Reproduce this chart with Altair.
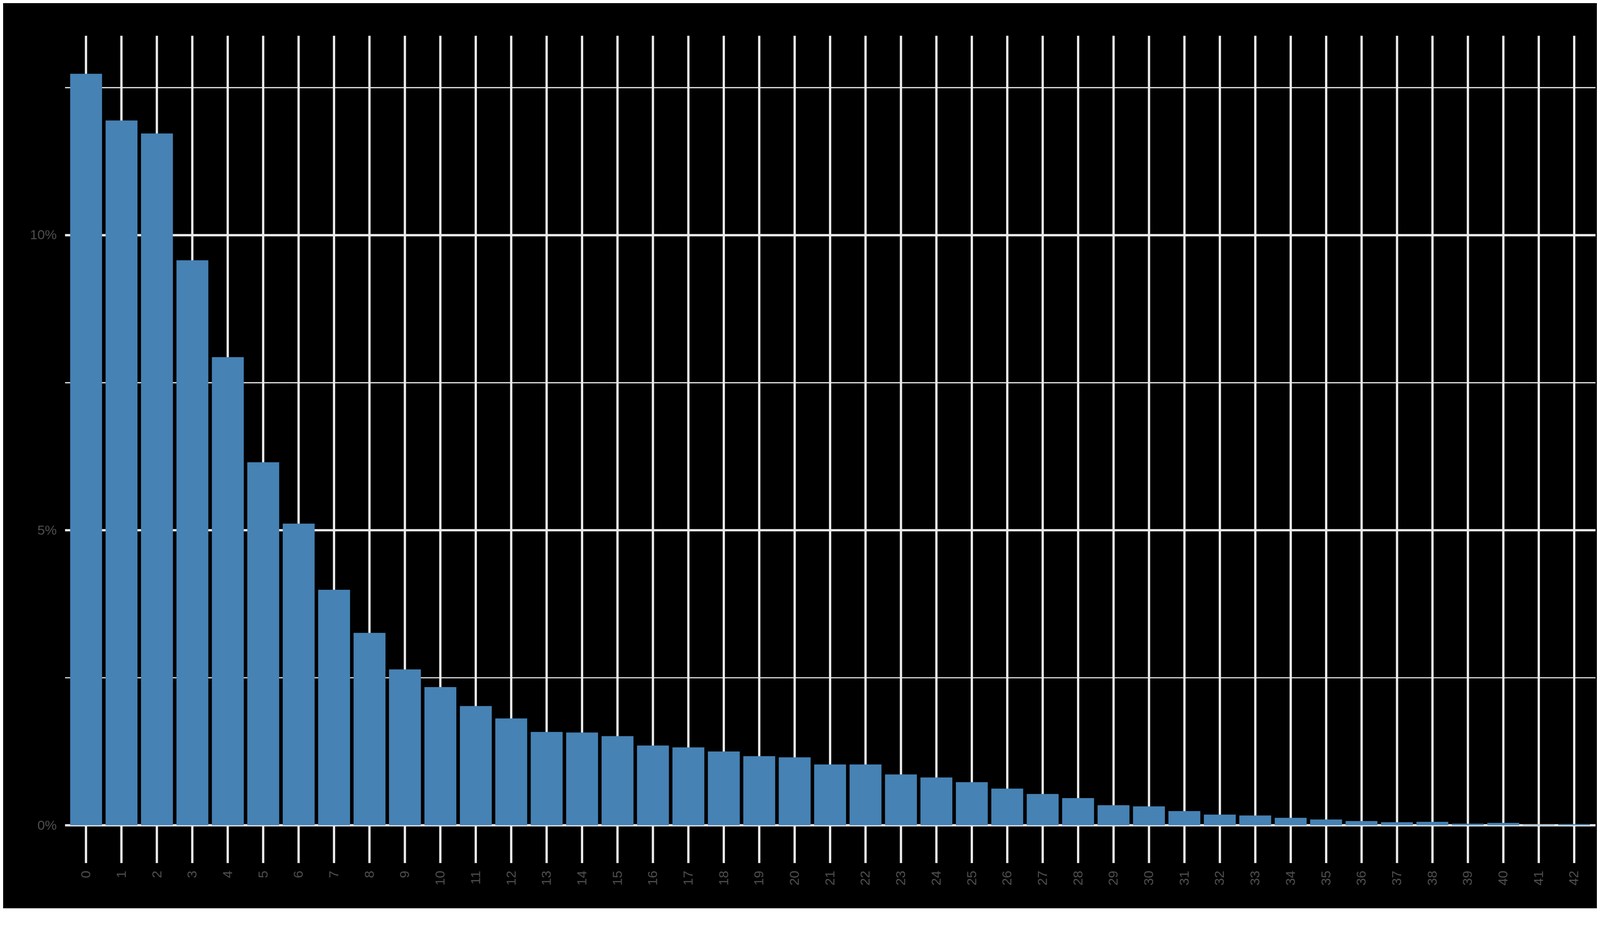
import altair as alt
import pandas as pd

# share of observations per count, in percent
counts = list(range(43))
share_pct = [
    12.73, 11.94, 11.72, 9.57, 7.93, 6.15, 5.11, 3.99, 3.26, 2.64,
    2.34, 2.02, 1.81, 1.58, 1.57, 1.51, 1.35, 1.32, 1.25, 1.17,
    1.15, 1.03, 1.03, 0.86, 0.81, 0.73, 0.62, 0.53, 0.46, 0.34,
    0.32, 0.24, 0.18, 0.165, 0.125, 0.097, 0.071, 0.052, 0.058, 0.026,
    0.039, 0.008, 0.019,
]
y_ticks = [0, 2.5, 5, 7.5, 10, 12.5]

df = pd.DataFrame({"count": [str(c) for c in counts], "share": share_pct})

grid_col = "#EBEBEB"
text_col = "#4D4D4D"
font = "Liberation Sans"

chart = alt.Chart(df).mark_bar(color="#4682B4").encode(
    x=alt.X(
        "count:O",
        sort=[str(c) for c in counts],
        scale=alt.Scale(paddingInner=0.1, paddingOuter=0.15),
        axis=alt.Axis(
            title=None,
            grid=True,
            gridColor=grid_col,
            gridWidth=6,
            bandPosition=0.5,
            domain=False,
            ticks=False,
            tickSize=0,
            labelAngle=270,
            labelPadding=20,
            labelFontSize=35,
            labelColor=text_col,
            labelFont=font,
            labelOverlap=False,
        ),
    ),
    y=alt.Y(
        "share:Q",
        scale=alt.Scale(domain=[-0.637, 13.377], nice=False, zero=False),
        axis=alt.Axis(
            title=None,
            values=y_ticks,
            grid=True,
            gridColor=grid_col,
            gridWidth=alt.condition("datum.value % 5 === 0", alt.value(6), alt.value(3)),
            domain=False,
            ticks=False,
            tickSize=0,
            labelExpr="datum.value % 5 === 0 ? datum.value + '%' : ''",
            labelPadding=22,
            labelFontSize=35,
            labelColor=text_col,
            labelFont=font,
        ),
    ),
).properties(
    width=4017,
    height=2170,
    background="black",
    padding={"left": 162, "top": 56, "right": 4, "bottom": 90},
    autosize=alt.AutoSizeParams(type="none"),
).configure_view(stroke=None)

chart.save("out.html", embed_options={"renderer": "svg", "actions": False})
